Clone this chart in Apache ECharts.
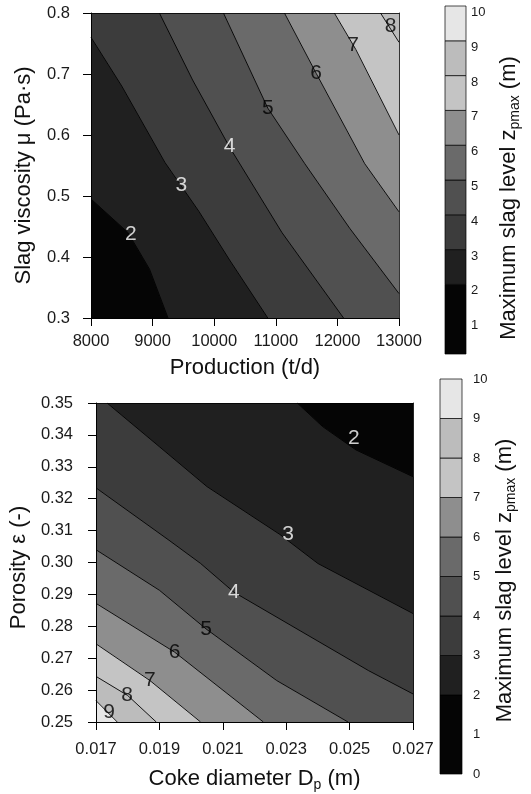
<!DOCTYPE html>
<html><head><meta charset="utf-8">
<script src="https://cdn.jsdelivr.net/npm/echarts@6/dist/echarts.min.js"></script>
<style>html,body{margin:0;padding:0;background:#fff}#c{width:531px;height:794px}</style>
</head><body><div id="c"></div>
<script>
// ---------- tick labels ----------
const prodTicks = [8000, 9000, 10000, 11000, 12000, 13000];
const viscTicks = [0.3, 0.4, 0.5, 0.6, 0.7, 0.8];
const cokeTicks = [0.017, 0.019, 0.021, 0.023, 0.025, 0.027];
const poroTicks = [0.25, 0.26, 0.27, 0.28, 0.29, 0.30, 0.31, 0.32, 0.33, 0.34, 0.35];
const cbTopTicks = [1, 2, 3, 4, 5, 6, 7, 8, 9, 10];
const cbBottomTicks = [0, 1, 2, 3, 4, 5, 6, 7, 8, 9, 10];

// ---------- top panel: contour lines (Production, viscosity) ----------
const topLevels = [2, 3, 4, 5, 6, 7, 8];
const topC2 = [[8000, 0.495], [8600, 0.44], [8950, 0.38], [9250, 0.3]];
const topC3 = [[8000, 0.76], [8500, 0.68], [9200, 0.555], [9750, 0.475], [10250, 0.395], [10870, 0.3]];
const topC4 = [[9110, 0.8], [9650, 0.69], [10250, 0.58], [11100, 0.44], [12100, 0.3]];
const topC5 = [[10150, 0.8], [10870, 0.644], [11470, 0.553], [12200, 0.447], [13000, 0.34]];
const topC6 = [[11140, 0.8], [11656, 0.701], [12443, 0.553], [13000, 0.474]];
const topC7 = [[11950, 0.8], [12300, 0.74], [13000, 0.6]];
const topC8 = [[12700, 0.8], [13000, 0.752]];
const topLabelX = [8647, 9467, 10249, 10871, 11656, 12253, 12862];
const topLabelY = [0.437, 0.518, 0.581, 0.644, 0.701, 0.748, 0.779];

// ---------- bottom panel: contour lines (coke diameter, porosity) ----------
const botLevels = [2, 3, 4, 5, 6, 7, 8, 9];
const botC2 = [[0.02335, 0.35], [0.02415, 0.3426], [0.0252, 0.3353], [0.027, 0.3269]];
const botC3 = [[0.01735, 0.35], [0.0190, 0.3363], [0.0205, 0.3238], [0.0228, 0.3088], [0.0240, 0.2997], [0.027, 0.284]];
const botC4 = [[0.017, 0.3234], [0.0193, 0.307], [0.0203, 0.2997], [0.02135, 0.2907], [0.0256, 0.2661], [0.027, 0.2588]];
const botC5 = [[0.017, 0.304], [0.019, 0.2913], [0.02047, 0.2792], [0.0227, 0.263], [0.02495, 0.25]];
const botC6 = [[0.017, 0.2872], [0.01948, 0.2719], [0.02228, 0.25]];
const botC7 = [[0.017, 0.2745], [0.0187, 0.263], [0.0203, 0.25]];
const botC8 = [[0.017, 0.2643], [0.018, 0.2583], [0.0189, 0.25]];
const botC9 = [[0.017, 0.2567], [0.01767, 0.25]];
const botLabelX = [0.02513, 0.02306, 0.02135, 0.02047, 0.01948, 0.0187, 0.01798, 0.01741];
const botLabelY = [0.339, 0.3089, 0.2907, 0.2792, 0.2719, 0.263, 0.2583, 0.253];

// ---------- colour bands ----------
const bandLow = [0, 2, 3, 4, 5, 6, 7, 8, 9];
const bandHigh = [2, 3, 4, 5, 6, 7, 8, 9, 10];
const bandGray = ['#050505', '#202020', '#3c3c3c', '#505050', '#6a6a6a', '#8e8e8e', '#c4c4c4', '#bcbcbc', '#e6e6e6'];

const FONT = '"Liberation Sans", Arial, Helvetica, sans-serif';
const colorFor = lv => bandGray[bandLow.indexOf(lv)];

function perim(p, ext) {
  const [x0, x1, y0, y1] = ext;
  const ex = (x1 - x0) * 1e-6, ey = (y1 - y0) * 1e-6;
  if (Math.abs(p[1] - y0) < ey) return (p[0] - x0) / (x1 - x0);
  if (Math.abs(p[0] - x1) < ex) return 1 + (p[1] - y0) / (y1 - y0);
  if (Math.abs(p[1] - y1) < ey) return 2 + (x1 - p[0]) / (x1 - x0);
  return 3 + (y1 - p[1]) / (y1 - y0);
}
function regionPolygon(line, ext, ccw) {
  const [x0, x1, y0, y1] = ext;
  const corners = [[x0, y0], [x1, y0], [x1, y1], [x0, y1]];
  const pts = line.slice();
  const a = perim(line[line.length - 1], ext);
  let b = perim(line[0], ext);
  if (ccw) {
    if (b <= a) b += 4;
    for (let k = Math.ceil(a); k < b; k++) if (k > a) pts.push(corners[k % 4]);
  } else {
    if (b >= a) b -= 4;
    for (let k = Math.floor(a); k > b; k--) if (k < a) pts.push(corners[((k % 4) + 4) % 4]);
  }
  return pts;
}
function bandSeries(xi, yi, ext, contours, levels, ccw) {
  const [x0, x1, y0, y1] = ext;
  const polys = [{ pts: [[x0, y0], [x1, y0], [x1, y1], [x0, y1]], color: bandGray[0] }];
  levels.forEach((lv, i) => polys.push({ pts: regionPolygon(contours[i], ext, ccw), color: colorFor(lv) }));
  return {
    type: 'custom', xAxisIndex: xi, yAxisIndex: yi, silent: true, clip: true, z: 1,
    data: polys.map((p, i) => [i]),
    renderItem: (params, api) => {
      const p = polys[params.dataIndex];
      return { type: 'polygon', shape: { points: p.pts.map(q => api.coord(q)) },
        style: { fill: p.color, stroke: p.color, lineWidth: 0.6 } };
    }
  };
}
function lineSeries(xi, yi, contours) {
  return contours.map(c => ({
    type: 'line', xAxisIndex: xi, yAxisIndex: yi, data: c, symbol: 'none', showSymbol: false,
    silent: true, z: 3, clip: true, lineStyle: { color: '#000', width: 0.9 }
  }));
}
function labelSeries(xi, yi, xs, ys, levels) {
  return {
    type: 'scatter', xAxisIndex: xi, yAxisIndex: yi, symbolSize: 1, silent: true, z: 5,
    itemStyle: { color: 'rgba(0,0,0,0)' },
    label: { show: true, position: 'inside', formatter: p => p.value[2], fontSize: 21, fontFamily: FONT },
    data: xs.map((x, i) => ({ value: [x, ys[i], levels[i]], label: { color: levels[i] <= 4 ? '#ffffff' : '#000000' } }))
  };
}
function colorbarSeries(xi, yi) {
  return {
    type: 'custom', xAxisIndex: xi, yAxisIndex: yi, silent: true,
    data: bandLow.map((lo, i) => [lo, bandHigh[i], i]),
    renderItem: (params, api) => {
      const a = api.coord([0, api.value(1)]);
      const b = api.coord([1, api.value(0)]);
      return { type: 'rect', shape: { x: a[0], y: a[1], width: b[0] - a[0], height: b[1] - a[1] },
        style: { fill: bandGray[api.value(2)], stroke: '#000', lineWidth: 0.7 } };
    }
  };
}

const tickStyle = { color: '#000', width: 1 };
const labelBase = { fontSize: 16.5, color: '#1a1a1a', fontFamily: FONT };
const nameBase = { fontSize: 22, color: '#111', fontFamily: FONT,
  rich: { sub: { fontSize: 14, fontFamily: FONT, color: '#111', padding: [12, 0, 0, 0] } } };

function mainX(grid, min, max, ticks, fmt, name, gap, margin) {
  return { type: 'value', gridIndex: grid, min, max, z: 10,
    axisLine: { show: true, lineStyle: tickStyle },
    axisTick: { show: true, inside: false, length: 8, lineStyle: tickStyle, customValues: ticks },
    axisLabel: Object.assign({ customValues: ticks, margin, formatter: fmt }, labelBase),
    splitLine: { show: false },
    name, nameLocation: 'middle', nameGap: gap, nameTextStyle: nameBase };
}
function mainY(grid, min, max, ticks, fmt, name, gap, margin, shift) {
  return { type: 'value', gridIndex: grid, min, max, z: 10,
    axisLine: { show: true, lineStyle: tickStyle },
    axisTick: { show: true, inside: false, length: 8, lineStyle: tickStyle, customValues: ticks },
    axisLabel: Object.assign({ customValues: ticks, margin, formatter: fmt }, labelBase),
    splitLine: { show: false },
    name, nameLocation: 'middle', nameRotate: 90, nameGap: gap,
    nameTextStyle: Object.assign({}, nameBase, { padding: [0, shift, 0, 0] }) };
}
function frameAxis(type, grid, min, max, pos) {
  return { type: 'value', gridIndex: grid, min, max, position: pos, z: 10,
    axisLine: { show: true, onZero: false, lineStyle: { color: '#000', width: 0.8 } },
    axisTick: { show: false }, axisLabel: { show: false }, splitLine: { show: false } };
}
function cbY(grid, ticks, shift, margin, valign) {
  return { type: 'value', gridIndex: grid, min: 0, max: 10, position: 'right',
    axisLine: { show: false }, axisTick: { show: false }, splitLine: { show: false },
    axisLabel: { customValues: ticks, margin, fontSize: 13, color: '#1a1a1a', fontFamily: FONT, verticalAlign: valign },
    name: 'Maximum slag level z{sub|pmax} (m)', nameLocation: 'middle', nameRotate: 90, nameGap: 30,
    nameTextStyle: Object.assign({}, nameBase, { padding: [0, shift, 0, 0] }) };
}

const topExt = [8000, 13000, 0.3, 0.8];
const botExt = [0.017, 0.027, 0.25, 0.35];
const topContours = [topC2, topC3, topC4, topC5, topC6, topC7, topC8];
const botContours = [botC2, botC3, botC4, botC5, botC6, botC7, botC8, botC9];

const option = {
  animation: false,
  backgroundColor: '#fff',
  grid: [
    { left: 91, top: 13, width: 308, height: 305 },
    { left: 91.5, top: 403, width: 321.5, height: 319 },
    { left: 445, top: 6, width: 21, height: 348 },
    { left: 440, top: 379, width: 22, height: 395 }
  ],
  xAxis: [
    mainX(0, 8000, 13000, prodTicks, v => String(v), 'Production (t/d)', 39, 15),
    frameAxis('x', 0, 8000, 13000, 'top'),
    mainX(1, 0.017, 0.027, cokeTicks, v => v.toFixed(3), 'Coke diameter D{sub|p} (m)', 44, 19),
    frameAxis('x', 1, 0.017, 0.027, 'top'),
    { type: 'value', gridIndex: 2, min: 0, max: 1, show: false },
    { type: 'value', gridIndex: 3, min: 0, max: 1, show: false }
  ],
  yAxis: [
    mainY(0, 0.3, 0.8, viscTicks, v => v.toFixed(1), 'Slag viscosity μ (Pa·s)', 56, 21, 20),
    frameAxis('y', 0, 0.3, 0.8, 'right'),
    mainY(1, 0.25, 0.35, poroTicks, v => v.toFixed(2), 'Porosity ε (-)', 62, 23, 10),
    frameAxis('y', 1, 0.25, 0.35, 'right'),
    cbY(2, cbTopTicks, 36, 5, 'top'),
    cbY(3, cbBottomTicks, 8, 11, 'middle')
  ],
  series: [
    bandSeries(0, 0, topExt, topContours, topLevels, true),
    ...lineSeries(0, 0, topContours),
    labelSeries(0, 0, topLabelX, topLabelY, topLevels),
    bandSeries(2, 2, botExt, botContours, botLevels, false),
    ...lineSeries(2, 2, botContours),
    labelSeries(2, 2, botLabelX, botLabelY, botLevels),
    colorbarSeries(4, 4),
    colorbarSeries(5, 5)
  ]
};
const chart = echarts.init(document.getElementById('c'), null, { renderer: 'canvas' });
chart.setOption(option);
</script></body></html>
